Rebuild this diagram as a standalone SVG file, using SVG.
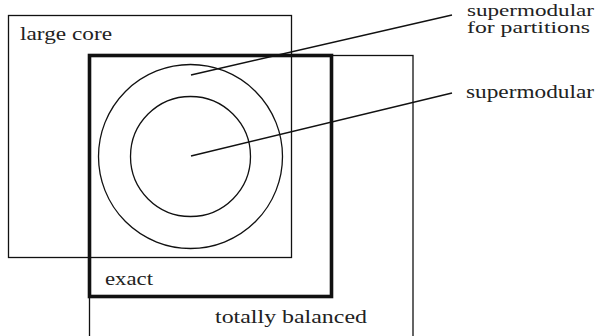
<svg xmlns="http://www.w3.org/2000/svg" width="596" height="336" viewBox="0 0 596 336">
<style>
.thin{fill:none;stroke:#111;stroke-width:1.3}
.thick{fill:none;stroke:#111;stroke-width:3.6}
.lead{fill:none;stroke:#111;stroke-width:1.4}
.t{fill:#222}
</style>
<rect width="596" height="336" fill="#fff"/>
<g font-family="Times New Roman, Liberation Serif, DejaVu Serif, Noto Serif, FreeSerif, serif" font-size="19">
<g id="large-core">
<rect class="thin" x="8.5" y="15.5" width="283" height="242"/>
<text class="t" x="20" y="40" textLength="92" lengthAdjust="spacingAndGlyphs">large core</text>
</g>
<g id="totally-balanced">
<rect class="thin" x="89.5" y="55.5" width="323.5" height="300"/>
<text class="t" x="215" y="323" textLength="152" lengthAdjust="spacingAndGlyphs">totally balanced</text>
</g>
<g id="exact">
<rect class="thick" x="89.5" y="55.5" width="242" height="241"/>
<text class="t" x="105" y="285" textLength="48" lengthAdjust="spacingAndGlyphs">exact</text>
</g>
<g id="supermodular-partitions">
<circle class="thin" cx="190.5" cy="156.5" r="92"/>
</g>
<g id="supermodular">
<circle class="thin" cx="190.5" cy="156.5" r="60"/>
</g>
<g id="connectors">
<line class="lead" x1="191" y1="75" x2="452" y2="15"/>
<line class="lead" x1="191" y1="156" x2="452" y2="93"/>
</g>
<g id="labels">
<text class="t" x="467" y="16" font-size="16" textLength="127" lengthAdjust="spacingAndGlyphs">supermodular</text>
<text class="t" x="467" y="33" font-size="16" textLength="123" lengthAdjust="spacingAndGlyphs">for partitions</text>
<text class="t" x="466" y="98" textLength="128" lengthAdjust="spacingAndGlyphs">supermodular</text>
</g>
</g>
</svg>
